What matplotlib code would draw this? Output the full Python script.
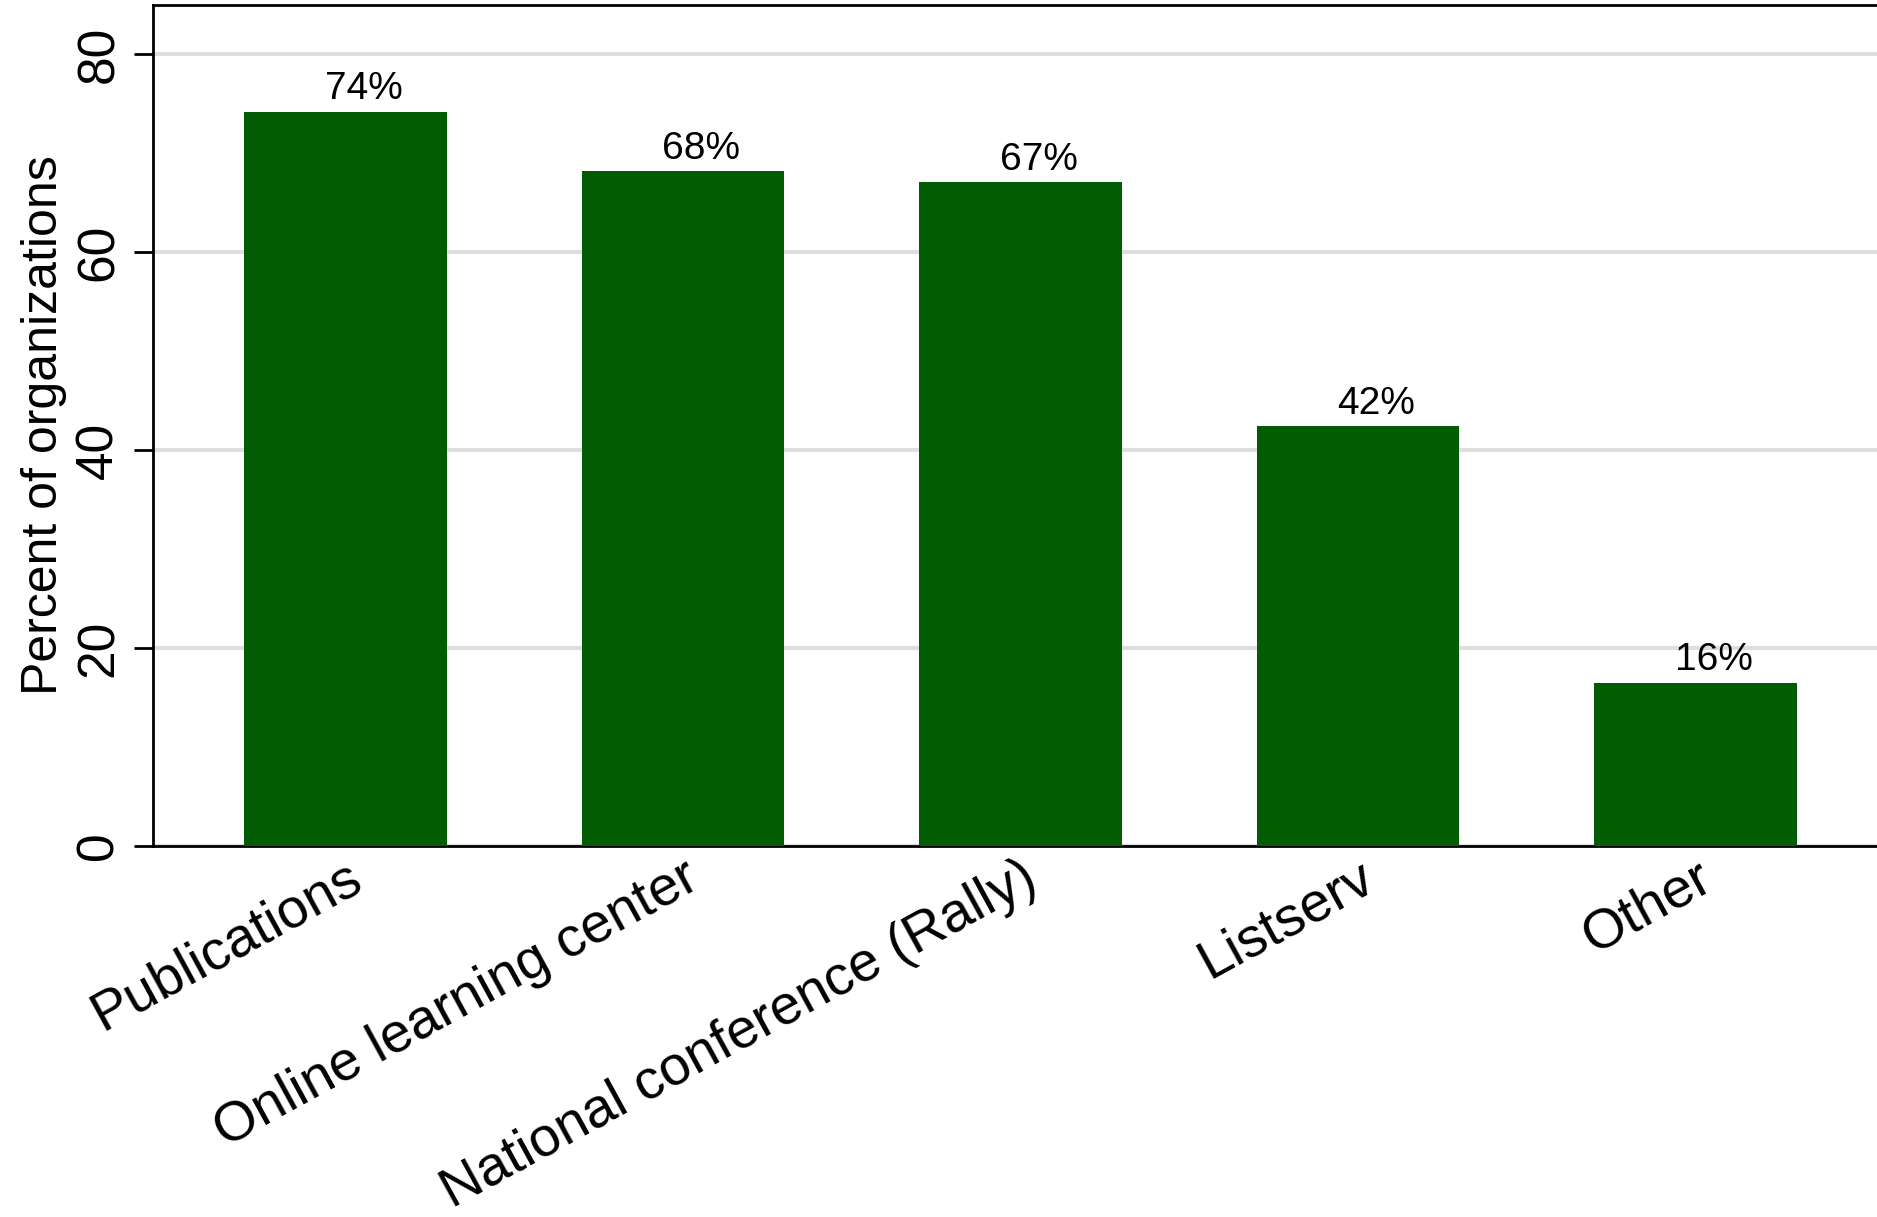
import matplotlib.pyplot as plt
from matplotlib.transforms import ScaledTranslation

plt.rcParams['font.family'] = ['Liberation Sans', 'DejaVu Sans']

categories = ['Publications', 'Online learning center', 'National conference (Rally)',
              'Listserv', 'Other']
values = [74.2, 68.2, 67.1, 42.4, 16.5]
labels = ['74%', '68%', '67%', '42%', '16%']

fig = plt.figure(figsize=(18.77, 12.17), dpi=100)
ax = fig.add_axes([153/1877, (1217-846)/1217, 1 - 153/1877, (846-5)/1217])

x = list(range(len(categories)))
ax.bar(x, values, width=0.6, color='#025c04', zorder=3)

for xi, v, lab in zip(x, values, labels):
    ax.annotate(lab, (xi, v), xytext=(13, 9), textcoords='offset points',
                ha='center', va='baseline', fontsize=28, zorder=4)

ax.set_xlim(-0.570, 4.538)
ax.set_ylim(0, 85)
ax.set_yticks([0, 20, 40, 60, 80])
ax.yaxis.grid(True, color='#dedede', linewidth=3, zorder=0)
ax.set_axisbelow(True)

ax.set_xticks(x)
ax.set_xticklabels(categories, rotation=28.7, ha='right', va='top',
                   rotation_mode='anchor', fontsize=40)
shift = ScaledTranslation(-4/72, 0, fig.dpi_scale_trans)
for t in ax.get_xticklabels():
    t.set_transform(t.get_transform() + shift)
ax.tick_params(axis='x', length=0, pad=4)
ax.tick_params(axis='y', length=14, width=2, pad=7, labelsize=37, labelrotation=90)
for t in ax.get_yticklabels():
    t.set_va('center')

ax.set_ylabel('Percent of organizations', fontsize=36)
ax.yaxis.set_label_coords(-0.050, 0.5)

ax.spines['right'].set_visible(False)
for s in ['left', 'top', 'bottom']:
    ax.spines[s].set_linewidth(2)
    ax.spines[s].set_color('black')

fig.savefig('out.png', dpi=100)
